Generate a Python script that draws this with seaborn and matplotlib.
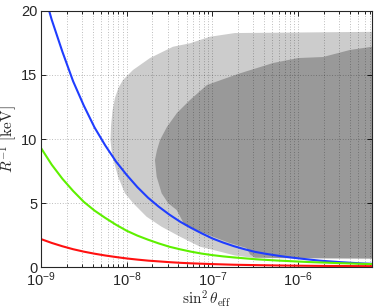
import numpy as np
import pandas as pd
import seaborn as sns
import matplotlib.pyplot as plt
from matplotlib.ticker import LogLocator, NullFormatter

# --- Data ---
# curves: log10(sin^2 theta_eff) and R^-1 in keV
log_sin2 = [-9.0, -8.875, -8.75, -8.625, -8.5, -8.375, -8.25, -8.125,
            -8.0, -7.875, -7.75, -7.625, -7.5, -7.375, -7.25, -7.125,
            -7.0, -6.875, -6.75, -6.625, -6.5, -6.375, -6.25, -6.125,
            -6.0, -5.875, -5.75, -5.625, -5.5, -5.375, -5.25, -5.13]
blue_vals = [22.2, 19.3, 16.8, 14.5, 12.6, 10.9, 9.5, 8.25,
             7.2, 6.25, 5.42, 4.72, 4.1, 3.55, 3.08, 2.65,
             2.25, 1.93, 1.65, 1.41, 1.2, 1.05, 0.92, 0.8,
             0.7, 0.61, 0.52, 0.46, 0.4, 0.35, 0.3, 0.27]
green_vals = [9.3, 8.0, 6.9, 5.95, 5.1, 4.42, 3.85, 3.32,
              2.85, 2.47, 2.15, 1.86, 1.6, 1.4, 1.22, 1.07,
              0.95, 0.85, 0.77, 0.7, 0.63, 0.58, 0.53, 0.49,
              0.45, 0.41, 0.38, 0.35, 0.32, 0.295, 0.27, 0.25]
red_vals = [2.2, 1.9, 1.64, 1.41, 1.22, 1.06, 0.92, 0.8,
            0.69, 0.6, 0.52, 0.46, 0.40, 0.35, 0.31, 0.28,
            0.25, 0.225, 0.2, 0.185, 0.17, 0.157, 0.145, 0.135,
            0.125, 0.117, 0.11, 0.105, 0.10, 0.095, 0.09, 0.085]

# shaded regions: polygon outlines (log10 x, R^-1)
light_logx = [-8.189, -8.183, -8.165, -8.137, -8.095, -8.043, -7.926, -7.728,
              -7.460, -7.261, -7.028, -6.736, -5.0, -5.0, -6.503, -6.736,
              -6.911, -7.145, -7.378, -7.592, -7.767, -7.923, -8.020, -8.10,
              -8.154, -8.177]
light_y = [9.92, 11.0, 12.2, 13.2, 14.0, 14.6, 15.38, 16.31,
           17.19, 17.46, 17.97, 18.26, 18.36, 0.68, 0.72, 0.92,
           1.22, 1.61, 2.39, 3.16, 3.94, 4.99, 5.77, 7.06,
           8.36, 9.14]

dark_logx = [-7.417, -7.515, -7.592, -7.65, -7.67, -7.646, -7.611, -7.530,
             -7.413, -7.261, -7.063, -6.701, -6.293, -6.001, -5.709, -5.394,
             -5.138, -5.0, -5.0, -6.2, -6.5, -6.56, -6.6, -6.8, -7.0, -7.15, -7.32]
dark_y = [4.47, 4.99, 5.77, 7.06, 8.36, 9.14, 9.92, 10.94,
          12.03, 13.04, 14.21, 15.07, 15.92, 16.31, 16.39, 16.94,
          17.19, 17.3, 0.68, 0.72, 0.76, 1.0, 1.5, 1.9, 2.4, 2.8, 3.25]

sin2 = 10.0 ** np.array(log_sin2)
curves = pd.concat([
    pd.DataFrame({'sin2': sin2, 'R_inv': blue_vals, 'curve': 'blue'}),
    pd.DataFrame({'sin2': sin2, 'R_inv': green_vals, 'curve': 'green'}),
    pd.DataFrame({'sin2': sin2, 'R_inv': red_vals, 'curve': 'red'}),
])
palette = {'blue': '#1f3dff', 'green': '#5ef000', 'red': '#ff1010'}

# --- Style ---
sns.set_style("ticks")
plt.rcParams['font.family'] = ['Liberation Sans', 'DejaVu Sans']
plt.rcParams['mathtext.fontset'] = 'custom'
plt.rcParams['mathtext.rm'] = 'Liberation Sans'
plt.rcParams['mathtext.it'] = 'Liberation Sans:italic'
plt.rcParams['mathtext.bf'] = 'Liberation Sans:bold'

fig = plt.figure(figsize=(3.74, 3.07), dpi=100)
ax = fig.add_axes([0.1096, 0.1293, 0.8851, 0.8358])

ax.fill(10.0 ** np.array(light_logx), light_y, color='#cccccc', lw=0, zorder=1)
ax.fill(10.0 ** np.array(dark_logx), dark_y, color='#999999', lw=0, zorder=1.1)

sns.lineplot(data=curves, x='sin2', y='R_inv', hue='curve', palette=palette,
             linewidth=1.5, legend=False, ax=ax, zorder=3, sort=False)

ax.set_xscale('log')
ax.set_xlim(1e-9, 7.3e-6)
ax.set_ylim(0, 20)
ax.set_yticks([0, 5, 10, 15, 20])
ax.xaxis.set_major_locator(LogLocator(base=10, numticks=10))
ax.xaxis.set_minor_locator(LogLocator(base=10, subs=np.arange(2, 10), numticks=20))
ax.xaxis.set_minor_formatter(NullFormatter())

ax.set_axisbelow(False)
grid_kw = dict(color='black', alpha=0.35, linewidth=0.6, linestyle=(0, (1, 2.2)))
ax.grid(True, which='both', axis='x', **grid_kw)
ax.grid(True, which='major', axis='y', **grid_kw)

ax.tick_params(which='both', direction='in', top=True, right=True,
               labelsize=10.5, color='black', width=0.6)
ax.tick_params(which='major', length=3.5, pad=2.5)
ax.tick_params(which='minor', length=2)
for s in ax.spines.values():
    s.set_linewidth(0.8)
    s.set_zorder(4)

ax.set_xlabel(r'$\sin^2\theta_{\rm eff}$', math_fontfamily='cm', fontsize=11, labelpad=-1)
ax.set_ylabel(r'$R^{-1}\ [\mathrm{keV}]$', math_fontfamily='cm', fontsize=11, labelpad=1.5)

plt.savefig('out.png', dpi=100)
